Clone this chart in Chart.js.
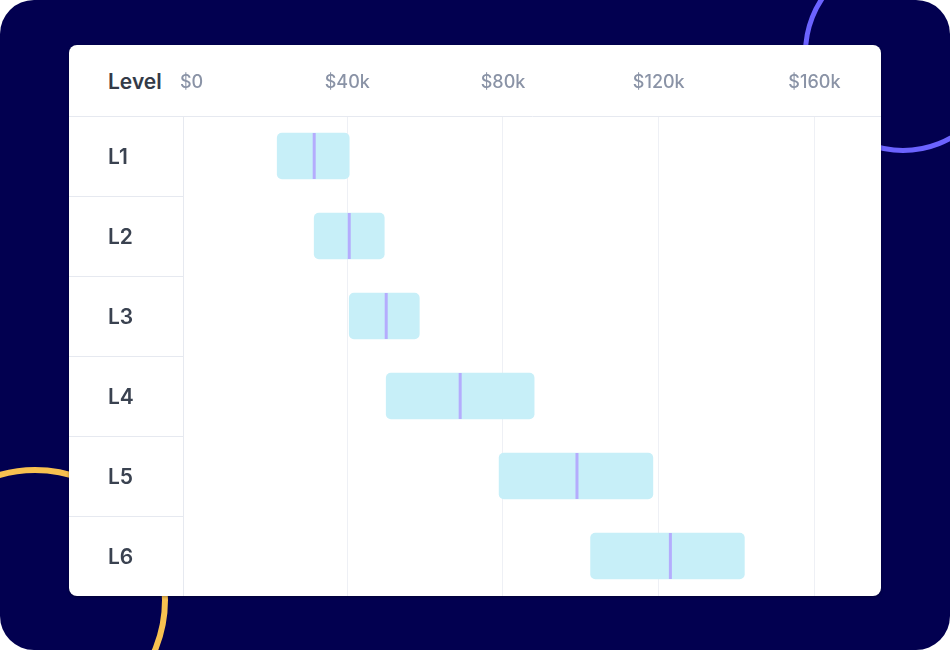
<!DOCTYPE html>
<html>
<head>
<meta charset="utf-8">
<script src="https://cdn.jsdelivr.net/npm/chart.js@4.4.0/dist/chart.umd.min.js"></script>
<style>
  html, body { margin: 0; padding: 0; background: #ffffff; }
  #frame {
    position: relative; width: 950px; height: 650px; overflow: hidden;
    background: #020050; border-radius: 34px;
    font-family: Inter, "Noto Sans", sans-serif;
  }
  .ring { position: absolute; border-radius: 50%; box-sizing: border-box; }
  #ring1 { left: 803px; top: -47px; width: 200px; height: 200px; border: 5px solid #6c63ff; }
  #ring2 { left: -98px; top: 467px; width: 266px; height: 266px; border: 6px solid #f8c150; }
  #card {
    position: absolute; left: 69px; top: 45px; width: 812px; height: 551px;
    background: #ffffff; border-radius: 8px; overflow: hidden;
    box-shadow: 0 1px 3px rgba(0, 0, 0, 0.35);
  }
  #levelHead {
    position: absolute; left: 39px; top: 25px; line-height: 24px;
    font-size: 21px; font-weight: 600; color: #333a47;
  }
  canvas { position: absolute; left: 0; top: 0; }
</style>
</head>
<body>
<div id="frame">
  <div class="ring" id="ring1"></div>
  <div class="ring" id="ring2"></div>
  <div id="card">
    <div id="levelHead">Level</div>
    <canvas id="bands" width="812" height="551"></canvas>
  </div>
</div>
<script>
// salary bands per level (in $)
const levels = ["L1", "L2", "L3", "L4", "L5", "L6"];
const bandMin = [22000, 31500, 40500, 50000, 79000, 102500];
const bandMax = [40500, 49500, 58500, 88000, 118500, 142000];
const bandMedian = [31500, 40500, 50000, 69000, 99000, 123000];
const salaryTicks = [0, 40000, 80000, 120000, 160000];

const lineGray = "#e6e9f0";

const ctx = document.getElementById("bands").getContext("2d");

new Chart(ctx, {
  type: "bar",
  data: {
    labels: levels,
    datasets: [
      {
        type: "line",
        label: "Median",
        indexAxis: "y",
        data: bandMedian,
        showLine: false,
        pointStyle: "line",
        rotation: 90,
        radius: 23,
        hoverRadius: 23,
        borderWidth: 3,
        hoverBorderWidth: 3,
        borderColor: "#b4acfd",
        backgroundColor: "#b4acfd",
        order: 0,
      },
      {
        label: "Range",
        data: levels.map((l, i) => [bandMin[i], bandMax[i]]),
        backgroundColor: "#c7eff8",
        borderSkipped: false,
        borderRadius: 5,
        barThickness: 46,
        order: 1,
      },
    ],
  },
  options: {
    indexAxis: "y",
    responsive: false,
    animation: false,
    layout: { autoPadding: false, padding: { left: 39, right: 0, top: 0, bottom: 0 } },
    plugins: {
      legend: { display: false },
      tooltip: { enabled: false },
    },
    scales: {
      x: {
        type: "linear",
        position: "top",
        min: -2200,
        max: 177100,
        afterBuildTicks: (s) => { s.ticks = salaryTicks.map((v) => ({ value: v })); },
        afterFit: (s) => {
          s.height = 71;
          s.paddingLeft = 0;
          s.paddingRight = 0;
        },
        border: { display: true, color: lineGray, width: 1 },
        grid: {
          drawTicks: false,
          color: (c) => (c.tick && c.tick.value === 0 ? "rgba(0,0,0,0)" : "#eef0f5"),
        },
        ticks: {
          padding: 23,
          color: "#8a93a6",
          font: { family: "Inter", size: 18, weight: 500 },
          callback: (v) => (v === 0 ? "$0" : "$" + v / 1000 + "k"),
        },
      },
      y: {
        type: "category",
        position: "left",
        offset: true,
        afterFit: (s) => {
          s.width = 75;
          s.paddingTop = 0;
          s.paddingBottom = 0;
        },
        border: { display: true, color: lineGray, width: 1 },
        grid: {
          offset: true,
          drawOnChartArea: false,
          drawTicks: true,
          tickLength: 114,
          color: lineGray,
        },
        ticks: {
          crossAlign: "far",
          padding: 0,
          labelOffset: 2,
          color: "#3a4250",
          font: { family: "Inter", size: 21, weight: 600 },
        },
      },
    },
  },
});
</script>
</body>
</html>
